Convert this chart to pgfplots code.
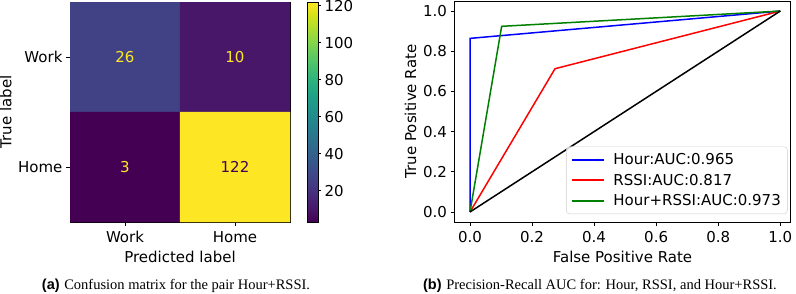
\documentclass[border=0pt]{standalone}
\usepackage{pgfplots}
\pgfplotsset{compat=1.18}
\usepackage{fontspec}
\setmainfont{DejaVu Sans}
\newfontfamily\capserif{Liberation Serif}
\newfontfamily\capsans{Liberation Sans}
\definecolor{vyellow}{HTML}{FDE725}
\definecolor{vpurple}{HTML}{440154}
\definecolor{mplgreen}{HTML}{008000}
\begin{document}
\begin{tikzpicture}
\useasboundingbox (0pt,0pt) rectangle (796pt,293pt);
\pgfplotsset{every axis/.append style={
  font=\fontsize{15}{18}\selectfont,
  /pgf/number format/assume math mode=true,
  axis line style={line width=0.8pt},
  tick style={line width=0.8pt, black},
  major tick length=4pt, tick align=outside,
  xticklabel style={text height=11pt, text depth=0pt, yshift=-1.5pt},
  xlabel style={text height=11pt, text depth=0pt, yshift=-3pt},
  ylabel style={text height=11pt, text depth=0pt}}}
\begin{axis}[at={(70pt,71pt)}, anchor=south west, scale only axis,
  width=220pt, height=220pt,
  xmin=-0.5, xmax=1.5, ymin=-0.5, ymax=1.5, y dir=reverse,
  tick pos=left,
  xtick={0,1}, ytick={0,1},
  xticklabels={Work,Home}, yticklabels={Work,Home},
  xlabel={Predicted label}, ylabel={True label},
  colormap/viridis, point meta min=3, point meta max=122,
  colorbar,
  colorbar style={at={(parent axis.north east)}, anchor=north west,
    xshift=8.5pt, width=11pt, ytick={20,40,60,80,100,120},
    ytick pos=right, yticklabel pos=right, major tick length=3pt,
    tick align=outside}]
\addplot[matrix plot*, mesh/cols=2, point meta=explicit, shader=flat corner]
  coordinates {(0,0) [26] (1,0) [10]

               (0,1) [3] (1,1) [122]};
\addplot[only marks, mark=none, nodes near coords, point meta=explicit symbolic,
  nodes near coords style={anchor=center, text=vyellow}]
  coordinates {(0,0) [26] (1,0) [10] (0,1) [3]};
\addplot[only marks, mark=none, nodes near coords, point meta=explicit symbolic,
  nodes near coords style={anchor=center, text=vpurple}]
  coordinates {(1,1) [122]};
\end{axis}
\begin{axis}[at={(454.5pt,71pt)}, anchor=south west, scale only axis,
  width=336pt, height=221pt,
  xmin=-0.05, xmax=1.033, ymin=-0.05, ymax=1.05,
  tick pos=left,
  xtick={0,0.2,0.4,0.6,0.8,1}, ytick={0,0.2,0.4,0.6,0.8,1},
  xticklabel style={/pgf/number format/.cd, fixed, fixed zerofill, precision=1},
  yticklabel style={/pgf/number format/.cd, fixed, fixed zerofill, precision=1},
  xlabel={False Positive Rate}, ylabel={True Positive Rate},
  legend cell align=left,
  legend style={at={(1,0)}, anchor=south east, xshift=-3pt, yshift=8pt,
    draw=black!20, rounded corners=3pt, fill=white, fill opacity=0.8, text opacity=1,
    row sep=4pt, column sep=6.7pt, inner xsep=4.5pt, inner ysep=4.6pt,
    font=\fontsize{15}{18}\selectfont},
  legend image code/.code={\draw[#1, line width=1.9pt] (0pt,0pt) -- (32pt,0pt);}]
\addplot[blue, line width=1.5pt] coordinates {(0,0) (0,0.864) (1,1)};
\addlegendentry{Hour:AUC:0.965}
\addplot[red, line width=1.5pt] coordinates {(0,0) (0.274,0.713) (1,1)};
\addlegendentry{RSSI:AUC:0.817}
\addplot[mplgreen, line width=1.5pt] coordinates {(0,0) (0.102,0.924) (1,1)};
\addlegendentry{Hour+RSSI:AUC:0.973}
\addplot[black, line width=1.5pt, forget plot] coordinates {(0,0) (1,1)};
\end{axis}
\node[anchor=base, font=\fontsize{14.5}{17}\selectfont] at (176pt,3.5pt)
  {{\capsans\bfseries (a)} {\capserif Confusion matrix for the pair Hour+RSSI.}};
\node[anchor=base, font=\fontsize{14.5}{17}\selectfont] at (600pt,3.5pt)
  {{\capsans\bfseries (b)} {\capserif Precision-Recall AUC for: Hour, RSSI, and Hour+RSSI.}};
\end{tikzpicture}
\end{document}
